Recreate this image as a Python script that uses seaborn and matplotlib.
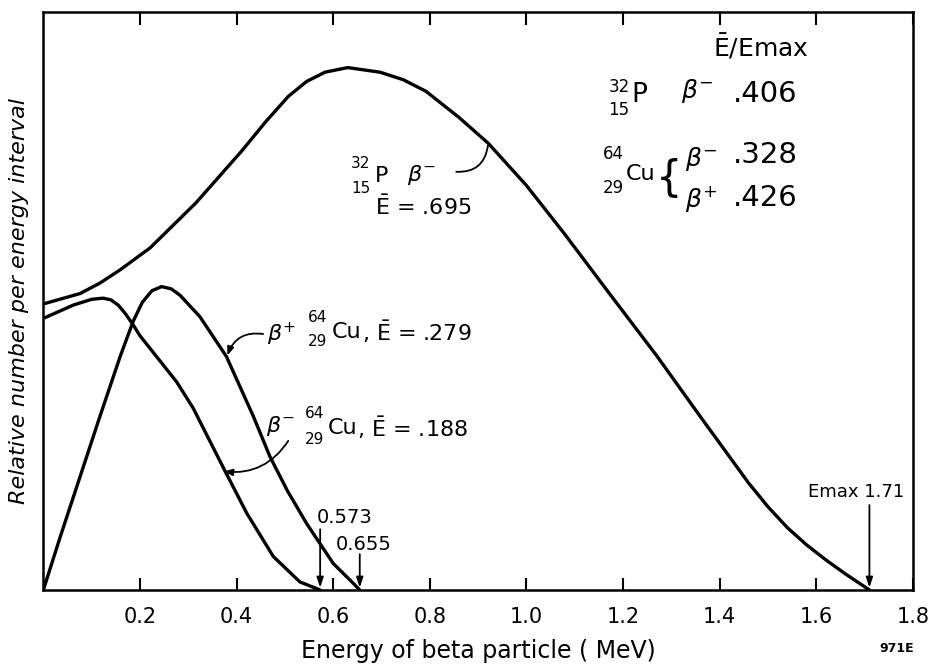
import numpy as np
import pandas as pd
import matplotlib
matplotlib.use("Agg")
import matplotlib.pyplot as plt
import seaborn as sns

# ---- data (energy in MeV, relative number 0-100) ----
p32_energy = [0.0, 0.076, 0.117, 0.159, 0.221, 0.316, 0.411, 0.460, 0.507, 0.545,
              0.583, 0.630, 0.697, 0.745, 0.792, 0.860, 0.921, 1.000, 1.080, 1.170,
              1.270, 1.360, 1.460, 1.500, 1.540, 1.580, 1.620, 1.660, 1.710]
p32_rel = [49.5, 51.3, 53.1, 55.4, 59.2, 67.0, 76.0, 81.0, 85.4, 88.0,
           89.6, 90.4, 89.6, 88.3, 86.3, 81.8, 77.3, 70.0, 61.5, 51.5,
           40.5, 30.0, 18.5, 14.4, 10.8, 7.8, 5.2, 2.8, 0.0]

cu_plus_energy = [0.0, 0.035, 0.076, 0.117, 0.159, 0.186, 0.205, 0.225, 0.245, 0.265,
                  0.283, 0.324, 0.379, 0.435, 0.469, 0.505, 0.545, 0.600, 0.641, 0.655]
cu_plus_rel = [0.0, 9.2, 19.6, 30.0, 40.4, 46.5, 49.8, 51.8, 52.5, 52.1,
               51.0, 47.3, 40.4, 30.0, 23.1, 17.2, 11.5, 4.6, 1.2, 0.0]

cu_minus_energy = [0.0, 0.062, 0.100, 0.124, 0.140, 0.155, 0.170, 0.185, 0.200, 0.240,
                   0.276, 0.310, 0.376, 0.421, 0.476, 0.531, 0.573]
cu_minus_rel = [47.0, 49.3, 50.3, 50.5, 50.2, 49.3, 47.8, 46.0, 44.0, 39.8,
                36.0, 31.5, 20.6, 13.3, 5.8, 1.4, 0.0]

series_names = ["P32 beta-", "Cu64 beta+", "Cu64 beta-"]

xtick_values = [0.2, 0.4, 0.6, 0.8, 1.0, 1.2, 1.4, 1.6, 1.8]
xtick_labels = ["0.2", "0.4", "0.6", "0.8", "1.0", "1.2", "1.4", "1.6", "1.8"]

endpoint_energies = [0.573, 0.655, 1.71]
endpoint_labels = ["0.573", "0.655", "Emax 1.71"]

# ---- build long-form table ----
df = pd.concat([
    pd.DataFrame({"energy": p32_energy, "rel": p32_rel, "series": series_names[0]}),
    pd.DataFrame({"energy": cu_plus_energy, "rel": cu_plus_rel, "series": series_names[1]}),
    pd.DataFrame({"energy": cu_minus_energy, "rel": cu_minus_rel, "series": series_names[2]}),
], ignore_index=True)

sns.set_style("ticks")
plt.rcParams['font.family'] = ['DejaVu Sans']
plt.rcParams['mathtext.fontset'] = 'dejavusans'
plt.rcParams['text.color'] = 'black'
plt.rcParams['axes.labelcolor'] = 'black'
plt.rcParams['xtick.color'] = 'black'

fig = plt.figure(figsize=(9.32, 6.65), dpi=100)
ax = fig.add_axes([0.0465, 0.1128, 0.933, 0.869])

sns.lineplot(data=df, x="energy", y="rel", hue="series",
             palette={n: "black" for n in series_names},
             estimator=None, sort=False, legend=False, linewidth=2.4, ax=ax)
for ln in ax.lines:
    ln.set_solid_joinstyle("round")
    ln.set_solid_capstyle("round")

ax.set_xlim(0, 1.8)
ax.set_ylim(0, 100)
ax.set_xticks(xtick_values)
ax.set_xticklabels(xtick_labels)
ax.tick_params(axis="x", direction="in", length=9, width=1.5, top=True, bottom=True,
               labelsize=15, pad=12, colors="black")
ax.tick_params(axis="y", left=False, labelleft=False)
for sp in ax.spines.values():
    sp.set_visible(True)
    sp.set_linewidth(1.8)
    sp.set_color("black")

ax.set_xlabel("Energy of beta particle ( MeV)", fontsize=17, labelpad=9)
ax.set_ylabel("Relative number per energy interval", fontsize=16, style="italic", labelpad=10)


def nuclide(x, y, mass, z, sym, size, ssize, up, down, gap=2.5):
    """Symbol left-aligned at x; mass/atomic numbers stacked to its left."""
    ax.text(x, y, sym, fontsize=size, ha="left", va="center")
    ax.annotate(mass, (x, y), xytext=(-gap, up), textcoords="offset points",
                ha="right", va="center", fontsize=ssize)
    ax.annotate(z, (x, y), xytext=(-gap, -down), textcoords="offset points",
                ha="right", va="center", fontsize=ssize)


# ---- endpoint arrows ----
arrow_kw = dict(arrowstyle="-|>,head_length=0.6,head_width=0.2", color="black", lw=1.3,
                shrinkA=0, shrinkB=0)
ax.annotate("", xy=(endpoint_energies[0], 0.4), xytext=(endpoint_energies[0], 10.5),
            arrowprops=arrow_kw)
ax.text(endpoint_energies[0] - 0.006, 12.6, endpoint_labels[0], fontsize=14,
        ha="left", va="center")
ax.annotate("", xy=(endpoint_energies[1], 0.4), xytext=(endpoint_energies[1], 6.2),
            arrowprops=arrow_kw)
ax.text(endpoint_energies[1] - 0.05, 7.9, endpoint_labels[1], fontsize=14,
        ha="left", va="center")
ax.annotate("", xy=(endpoint_energies[2], 0.4), xytext=(endpoint_energies[2], 14.7),
            arrowprops=arrow_kw)
ax.text(1.683, 17.0, endpoint_labels[2], fontsize=13, ha="center", va="center")

# ---- P32 curve label ----
nuclide(0.686, 71.6, "32", "15", "P", 16, 11, 9.4, 8.6, gap=3)
ax.text(0.752, 71.8, r"$\beta^{-}$", fontsize=16, ha="left", va="center")
ax.text(0.686, 66.3, r"$\bar{\mathrm{E}}$ = .695", fontsize=16, ha="left", va="center")
ax.annotate("", xy=(0.921, 77.4), xytext=(0.849, 72.4),
            arrowprops=dict(arrowstyle="-", color="black", lw=1.3,
                            connectionstyle="arc3,rad=0.5"))

# ---- Cu beta+ label ----
ax.text(0.463, 44.3, r"$\beta^{+}$", fontsize=16, ha="left", va="center")
nuclide(0.597, 44.6, "64", "29", "Cu", 16, 11, 10.8, 6.5, gap=3)
ax.text(0.659, 44.6, r", $\bar{\mathrm{E}}$ = .279", fontsize=16, ha="left", va="center")
ax.annotate("", xy=(0.381, 40.6), xytext=(0.455, 44.3),
            arrowprops=dict(arrowstyle="-|>,head_length=0.5,head_width=0.2", color="black",
                            lw=1.3, shrinkA=0, shrinkB=0,
                            connectionstyle="arc3,rad=0.4"))

# ---- Cu beta- label ----
ax.text(0.461, 28.4, r"$\beta^{-}$", fontsize=16, ha="left", va="center")
nuclide(0.589, 28.1, "64", "29", "Cu", 16, 11, 10.4, 8.3, gap=2.5)
ax.text(0.649, 28.1, r", $\bar{\mathrm{E}}$ = .188", fontsize=16, ha="left", va="center")
ax.annotate("", xy=(0.374, 20.5), xytext=(0.507, 25.8),
            arrowprops=dict(arrowstyle="-|>,head_length=0.5,head_width=0.2", color="black",
                            lw=1.3, shrinkA=0, shrinkB=0,
                            connectionstyle="arc3,rad=-0.3"))

# ---- E-bar / Emax table ----
ax.text(1.485, 93.9, r"$\bar{\mathrm{E}}$/Emax", fontsize=18, ha="center", va="center")
nuclide(1.218, 85.6, "32", "15", "P", 19, 12, 5.8, 10.8, gap=1.5)
ax.text(1.321, 86.3, r"$\beta^{-}$", fontsize=18, ha="left", va="center")
ax.text(1.427, 85.9, ".406", fontsize=21, ha="left", va="center")
nuclide(1.206, 72.0, "64", "29", "Cu", 16, 12, 14.5, 10.0, gap=1.5)
ax.text(1.296, 71.2, "{", fontsize=30, ha="center", va="center")
ax.text(1.328, 74.6, r"$\beta^{-}$", fontsize=18, ha="left", va="center")
ax.text(1.427, 75.3, ".328", fontsize=21, ha="left", va="center")
ax.text(1.328, 67.6, r"$\beta^{+}$", fontsize=18, ha="left", va="center")
ax.text(1.427, 67.8, ".426", fontsize=21, ha="left", va="center")

fig.text(897 / 932, 1 - 648 / 665, "971E", fontsize=9, fontweight="bold",
         ha="center", va="center")

fig.savefig("out.png", dpi=100, facecolor="white")
